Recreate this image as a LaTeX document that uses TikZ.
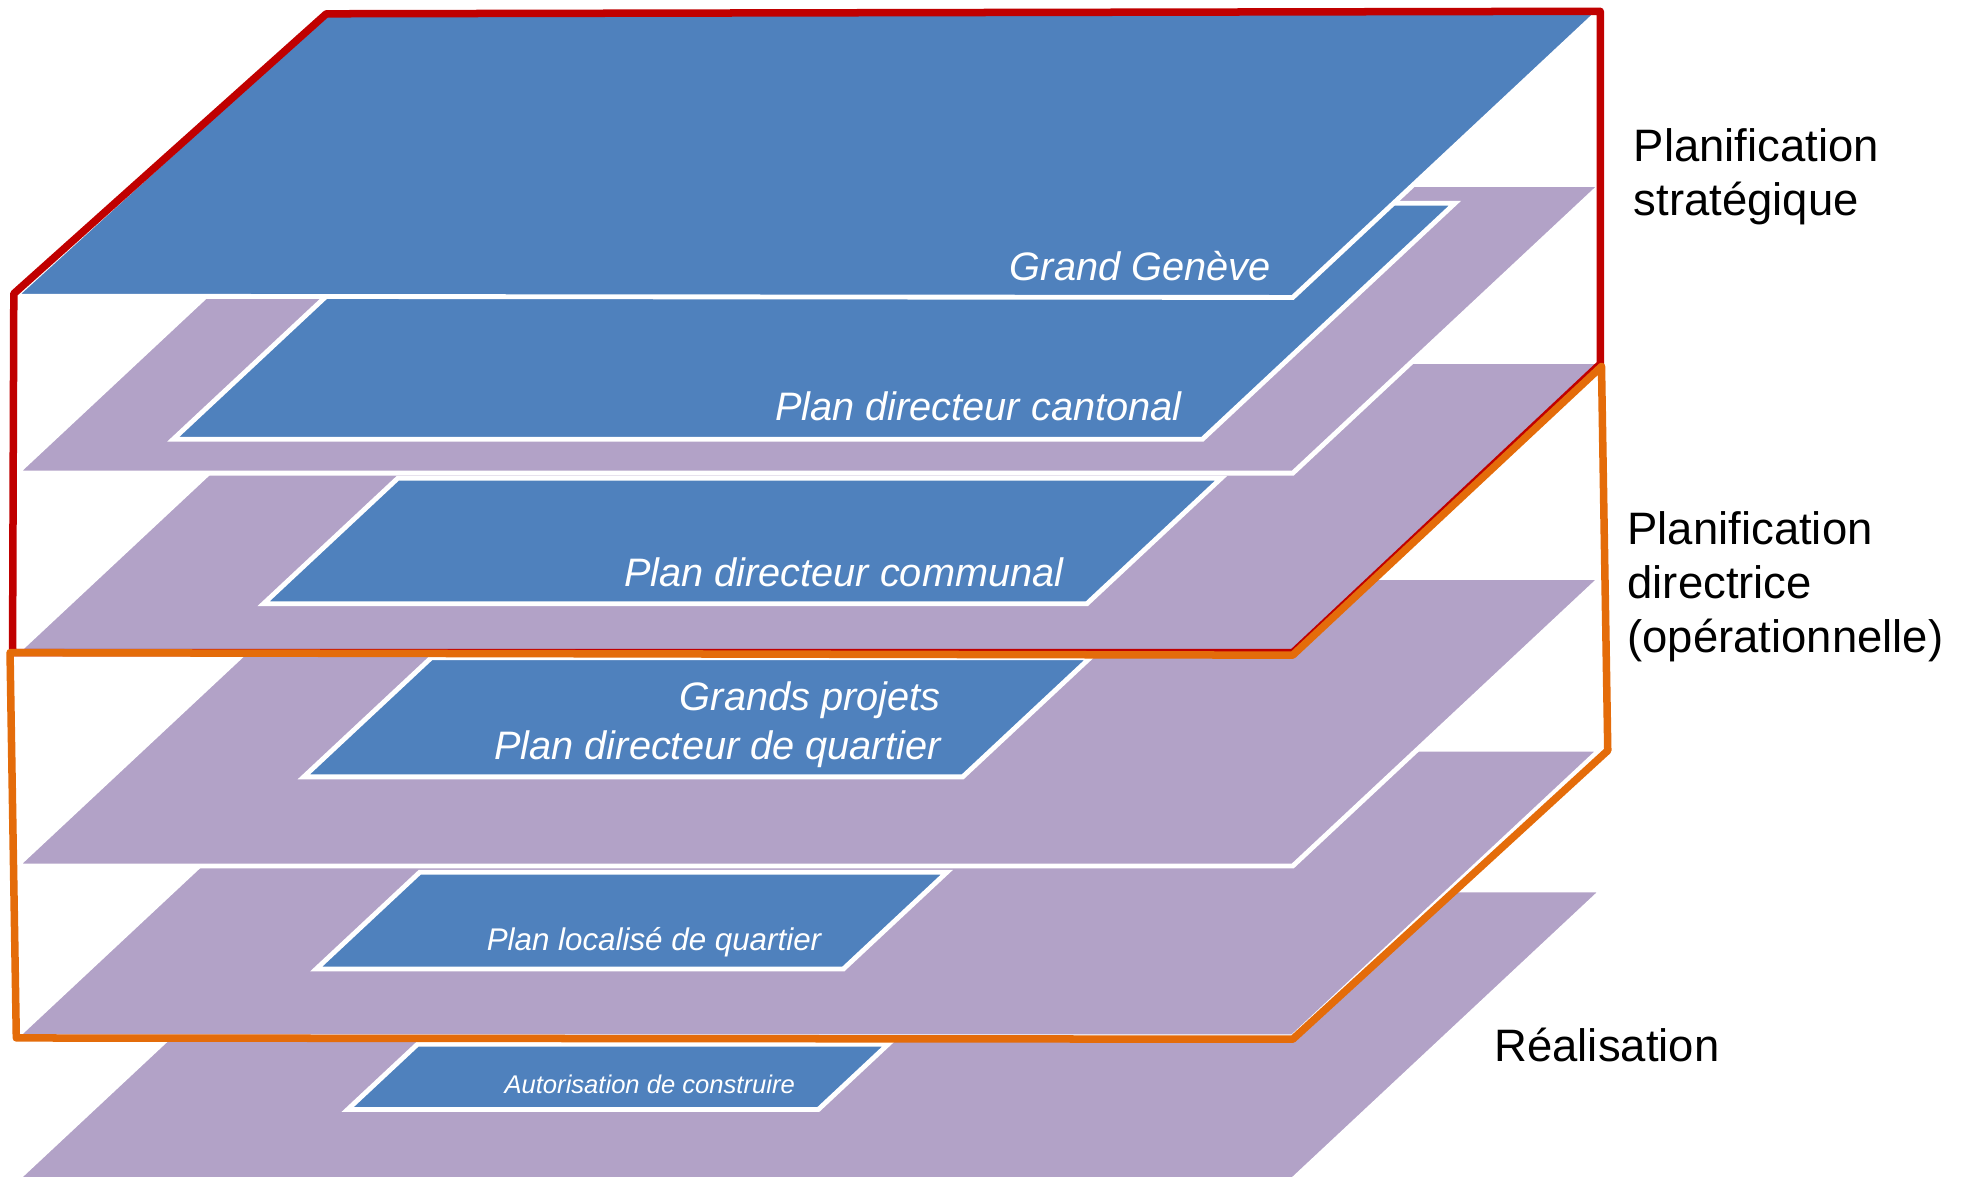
\documentclass[tikz,border=0pt]{standalone}
\usepackage{fontspec}
\setmainfont{Liberation Sans}
\definecolor{planblue}{HTML}{4F81BD}
\definecolor{layerpurple}{HTML}{B2A2C7}
\definecolor{stratred}{HTML}{C00000}
\definecolor{operorange}{HTML}{E46C0A}

\begin{document}
\begin{tikzpicture}[
    x=0.01cm, y=-0.01cm,
    layer/.style={fill=layerpurple, draw=white, line width=1.1pt},
    plan/.style={fill=planblue, draw=white, line width=1.1pt},
    planlabel/.style={text=white, font=\itshape\fontsize{9}{11.1}\selectfont, inner sep=0pt, anchor=base east, align=right},
    levellabel/.style={text=black, font=\fontsize{10.3}{12.3}\selectfont, inner sep=0pt, anchor=base west, align=left},
    zoneframe/.style={line width=1.7pt, line join=round}
]
\useasboundingbox (0,0) rectangle (1568,937);

% Layers from the bottom up, each with its plan
\foreach \lt/\lb/\pt/\pb/\pl/\pr in {709/940/832/884/277/652, 597/826/695/772/252/672, 460/690/524/619/242/767, 288/520/381/481/210/866, 147/377/162/350/138/958} {
    \draw[layer] ({13+1.07*(\lb-\lt)},\lt) -- ({1030+1.07*(\lb-\lt)},\lt) -- (1030,\lb) -- (13,\lb) -- cycle;
    \draw[plan] ({\pl+1.07*(\pb-\pt)},\pt) -- ({\pr+1.07*(\pb-\pt)},\pt) -- (\pr,\pb) -- (\pl,\pb) -- cycle;
}

% Top plane
\draw[plan] (260,10) -- (1275,8) -- (1030,237) -- (12,236) -- cycle;

% Frames
\draw[zoneframe, draw=stratred] (11,234) -- (260,11) -- (1275,9) -- (1275,290) -- (1030,520) -- (10,520) -- cycle;
\draw[zoneframe, draw=operorange] (8,520) -- (1030,522) -- (1276,292) -- (1281,598) -- (1030,828) -- (13,827) -- cycle;

% Plan labels
\node[planlabel] (grandgeneve) at (1013,223.5) {Grand Genève};
\node[planlabel] (cantonal) at (942,335) {Plan directeur cantonal};
\node[planlabel] (communal) at (848,467) {Plan directeur communal};
\node[planlabel] (quartier) at (750,605) {Grands projets\\Plan directeur de quartier};
\node[planlabel, font=\itshape\fontsize{7.1}{8.5}\selectfont] (localise) at (655,757) {Plan localisé de quartier};
\node[planlabel, font=\itshape\fontsize{5.8}{7}\selectfont] (autorisation) at (634,871) {Autorisation de construire};

% Level labels
\node[levellabel] (strategique) at (1301,172) {Planification\\stratégique};
\node[levellabel] (directrice) at (1296,520) {Planification\\directrice\\(opérationnelle)};
\node[levellabel] (realisation) at (1190,846) {Réalisation};
\end{tikzpicture}
\end{document}
